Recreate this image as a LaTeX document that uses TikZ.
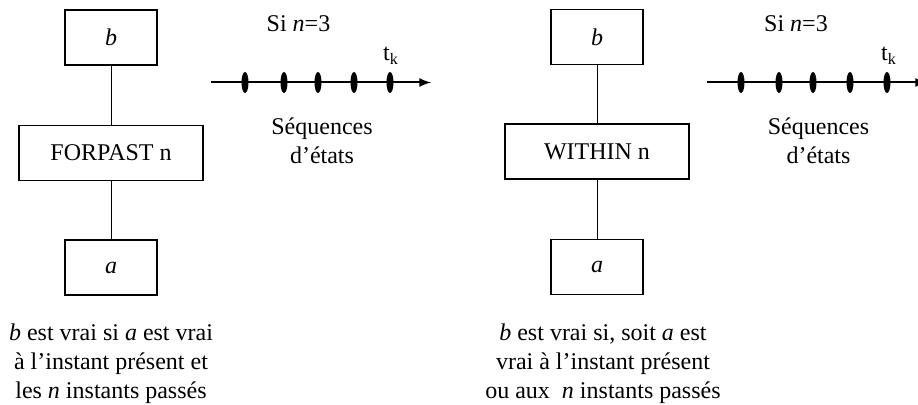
\documentclass[tikz,border=0pt]{standalone}
\usepackage{fontspec}
\setmainfont{Liberation Serif}
\usetikzlibrary{arrows}

\begin{document}
\begin{tikzpicture}[x=0.5pt,y=0.5pt,
	txt/.style={font=\fontsize{12}{14.5}\selectfont, inner sep=0pt, align=center},
	boite/.style={txt, draw, line width=0.8pt, minimum height=27.6pt},
	petite/.style={boite, minimum width=46.2pt},
	grande/.style={boite, minimum width=92pt},
	lien/.style={line width=0.5pt},
	axe/.style={-latex, line width=1pt},
	etat/.style={x radius=1.75pt, y radius=5.25pt}]

	\clip (0,0) rectangle (918,405);

	% FORPAST
	\def \xc{111}
	\node[petite] (bL) at (\xc,367.5) {\textit{b}};
	\node[grande] (opL) at (\xc,252) {FORPAST n};
	\node[petite] (aL) at (\xc,137.5) {\textit{a}};
	\draw[lien] (bL) -- (opL);
	\draw[lien] (opL) -- (aL);
	\node[txt] (txtL) at (\xc,41) {\textit{b} est vrai si \textit{a} est vrai\\à l'instant présent et\\les \textit{n} instants passés};

	\coordinate (debL) at (211,322.5);
	\coordinate (finL) at (431,322.5);
	\draw[axe] (debL) -- (finL);
	\foreach \ix in {245,284,318,354,390}{
		\fill (\ix,322.5) ellipse [etat];
	}
	\node[txt] (siL) at (298.5,381) {Si \textit{n}=3};
	\node[txt] (tkL) at (391,349) {t\textsubscript{k}};
	\node[txt] (seqL) at (322,264) {Séquences\\d'états};

	% WITHIN
	\def \xc{597}
	\node[petite] (bR) at (\xc,368) {\textit{b}};
	\node[grande] (opR) at (\xc,253.5) {WITHIN n};
	\node[petite] (aR) at (\xc,138) {\textit{a}};
	\draw[lien] (bR) -- (opR);
	\draw[lien] (opR) -- (aR);
	\node[txt] (txtR) at (603,41) {\textit{b} est vrai si, soit \textit{a} est\\vrai à l'instant présent\\ou aux\ \ \textit{n} instants passés};

	\coordinate (debR) at (707,322.5);
	\coordinate (finR) at (927,322.5);
	\draw[axe] (debR) -- (finR);
	\foreach \ix in {741,779,813,850,887}{
		\fill (\ix,322.5) ellipse [etat];
	}
	\node[txt] (siR) at (796,381) {Si \textit{n}=3};
	\node[txt] (tkR) at (889,349) {t\textsubscript{k}};
	\node[txt] (seqR) at (818.5,264) {Séquences\\d'états};

\end{tikzpicture}
\end{document}
